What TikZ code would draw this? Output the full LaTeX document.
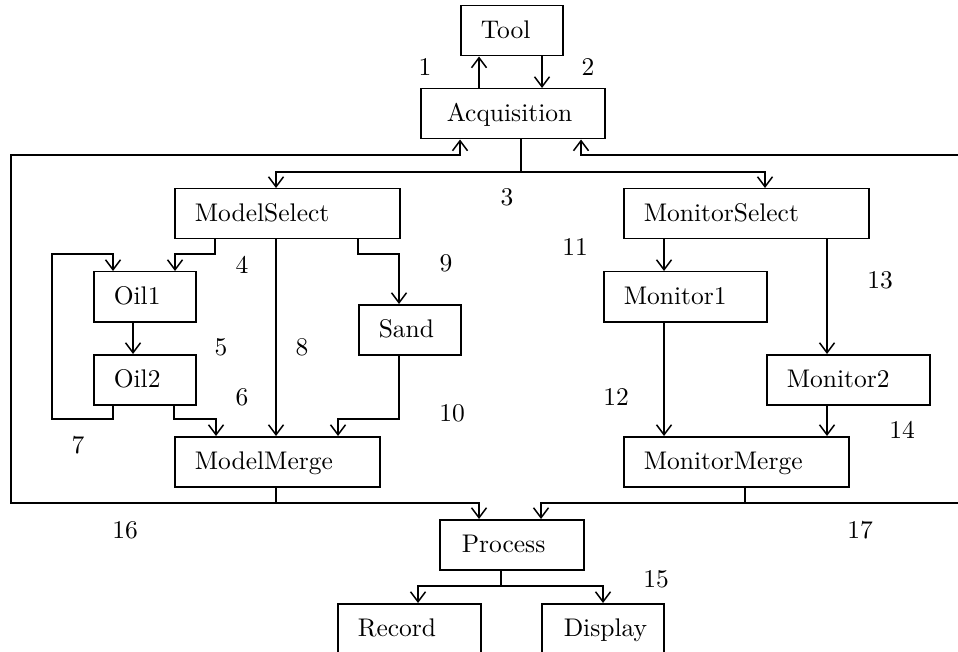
\documentclass[tikz,border=0pt]{standalone}
\usetikzlibrary{arrows.meta}
\newcommand{\mytx}[1]{\scalebox{2.55}{#1}}
\begin{document}
\begin{tikzpicture}[x=1pt,y=-1pt,
  box/.style={draw, line width=1.5pt, minimum height=50pt, inner xsep=20pt, inner ysep=0pt,
    text height=16pt, text depth=0pt, align=left, anchor=north west},
  ln/.style={line width=1.5pt},
  arr/.style={line width=1.5pt, -{Straight Barb[length=10pt,width=15pt,line width=1.5pt]}},
  num/.style={inner sep=0pt}]
\useasboundingbox (0,0) rectangle (958,652);
\clip (0,0) rectangle (958,652);
% boxes
\node[box, text width=62pt] (tool) at (460,5) {\mytx{Tool}};
\node[box, inner xsep=26pt, text width=132pt] (acq) at (420,88) {\mytx{Acquisition}};
\node[box, text width=185pt] (msel) at (174,188) {\mytx{ModelSelect}};
\node[box, text width=62pt] (oil1) at (93,271) {\mytx{Oil1}};
\node[box, text width=62pt] (oil2) at (93,354) {\mytx{Oil2}};
\node[box, text width=62pt] (sand) at (358,304) {\mytx{Sand}};
\node[box, text width=165pt] (mmerge) at (174,436) {\mytx{ModelMerge}};
\node[box, text width=205pt] (monsel) at (623,188) {\mytx{MonitorSelect}};
\node[box, text width=123pt] (mon1) at (603,271) {\mytx{Monitor1}};
\node[box, text width=123pt] (mon2) at (766,354) {\mytx{Monitor2}};
\node[box, text width=185pt] (monmerge) at (623,436) {\mytx{MonitorMerge}};
\node[box, inner xsep=22pt, text width=100pt] (proc) at (439,519) {\mytx{Process}};
\node[box, text width=103pt] (rec) at (337,603) {\mytx{Record}};
\node[box, inner xsep=22pt, text width=78pt] (disp) at (541,603) {\mytx{Display}};
% free ends
\coordinate (r1) at (975,503);
\coordinate (r2) at (975,155);
% connectors
\draw[arr] (acq.north -| 479,0) -- (tool.south -| 479,0);
\draw[arr] (tool.south -| 542,0) -- (acq.north -| 542,0);
\draw[ln] (acq.south -| 521,0) -- (521,172) coordinate (j3);
\draw[arr] (j3) -| (msel.north -| 276,0);
\draw[arr] (j3) -| (monsel.north -| 765,0);
\draw[arr] (msel.south -| 215,0) -- (215,254) -| (oil1.north -| 175,0);
\draw[arr] (oil2.south -| 113,0) -- (113,419) -- (52,419) -- (52,254) -| (oil1.north -| 113,0);
\draw[arr] (oil1.south -| 133,0) -- (oil2.north -| 133,0);
\draw[arr] (oil2.south -| 174,0) -- (174,419) -| (mmerge.north -| 216,0);
\draw[arr] (msel.south -| 276,0) -- (mmerge.north -| 276,0);
\draw[arr] (msel.south -| 358,0) -- (358,254) -| (sand.north -| 399,0);
\draw[arr] (sand.south -| 399,0) -- (399,419) -| (mmerge.north -| 338,0);
\draw[arr] (monsel.south -| 664,0) -- (mon1.north -| 664,0);
\draw[arr] (mon1.south -| 664,0) -- (monmerge.north -| 664,0);
\draw[arr] (monsel.south -| 827,0) -- (mon2.north -| 827,0);
\draw[arr] (mon2.south -| 827,0) -- (monmerge.north -| 827,0);
\draw[ln] (mmerge.south -| 276,0) -- (276,503) coordinate (j16);
\draw[arr] (j16) -| (proc.north -| 479,0);
\draw[arr] (j16) -- (11,503) -- (11,155) -| (acq.south -| 460,0);
\draw[ln] (monmerge.south -| 745,0) -- (745,503) coordinate (j17);
\draw[arr] (j17) -| (proc.north -| 541,0);
\draw[ln] (j17) -- (r1);
\draw[arr] (r2) -| (acq.south -| 581,0);
\draw[ln] (proc.south -| 501,0) -- (501,586) coordinate (j15);
\draw[arr] (j15) -| (rec.north -| 418,0);
\draw[arr] (j15) -| (disp.north -| 603,0);
% labels
\node[num] (n1) at (425,67) {\mytx{1}};
\node[num] (n2) at (588,67) {\mytx{2}};
\node[num] (n3) at (507,197) {\mytx{3}};
\node[num] (n4) at (242,265) {\mytx{4}};
\node[num] (n5) at (221,347) {\mytx{5}};
\node[num] (n6) at (242,397) {\mytx{6}};
\node[num] (n7) at (78,445) {\mytx{7}};
\node[num] (n8) at (302,347) {\mytx{8}};
\node[num] (n9) at (446,263) {\mytx{9}};
\node[num] (n10) at (452,413) {\mytx{10}};
\node[num] (n11) at (575,247) {\mytx{11}};
\node[num] (n12) at (616,397) {\mytx{12}};
\node[num] (n13) at (880,280) {\mytx{13}};
\node[num] (n14) at (902,430) {\mytx{14}};
\node[num] (n15) at (656,579) {\mytx{15}};
\node[num] (n16) at (125,530) {\mytx{16}};
\node[num] (n17) at (860,530) {\mytx{17}};
\end{tikzpicture}
\end{document}
